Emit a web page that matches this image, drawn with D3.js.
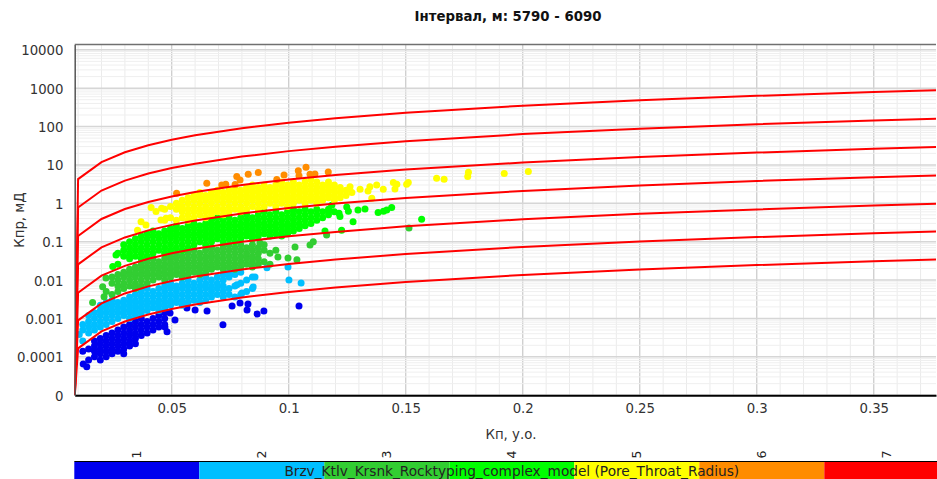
<!DOCTYPE html>
<html>
<head>
<meta charset="utf-8">
<script src="https://cdn.jsdelivr.net/npm/d3@7"></script>
<style>
  body { margin: 0; background: #fff; }
  svg { display: block; font-family: "DejaVu Sans", Verdana, sans-serif; }
</style>
</head>
<body>
<svg id="chart" width="937" height="479"></svg>
<script>
// ---- data -------------------------------------------------------------
const titleText = "Інтервал, м: 5790 - 6090";
const xTitle = "Кп, у.о.";
const yTitle = "Кпр, мД";
const legendTitle = "Brzv_Ktlv_Krsnk_Rocktyping_complex_model (Pore_Throat_Radius)";

const xTicks = [0.05, 0.1, 0.15, 0.2, 0.25, 0.3, 0.35];
const xTickLabels = ["0.05", "0.1", "0.15", "0.2", "0.25", "0.3", "0.35"];
const yTicks = [1e-5, 1e-4, 1e-3, 1e-2, 1e-1, 1, 10, 100, 1000, 10000];
const yTickLabels = ["0", "0.0001", "0.001", "0.01", "0.1", "1", "10", "100", "1000", "10000"];

const rtLabels = ["1", "2", "3", "4", "5", "6", "7"];
const rtColors = ["#0000ee", "#00bfff", "#32cd32", "#00ff00", "#ffff00", "#ff8c00", "#ff0000"];

// pore throat radius boundary lines (porosity, permeability)
const curvePhi = [0.0086, 0.01, 0.02, 0.03, 0.04, 0.05, 0.06, 0.08, 0.1, 0.12, 0.15, 0.2, 0.25, 0.3, 0.35, 0.38];
const curve1 = [1e-5, 4.27, 11.8, 21.4, 32.7, 45.5, 59.4, 90.7, 126, 165, 228, 349, 484, 633, 794, 896];
const curve2 = [1e-5, 0.776, 2.15, 3.90, 5.96, 8.27, 10.8, 16.5, 22.9, 29.9, 41.6, 63.5, 88.1, 115, 144, 163];
const curve3 = [1e-5, 0.141, 0.391, 0.710, 1.08, 1.50, 1.97, 3.00, 4.17, 5.45, 7.57, 11.5, 16.0, 21.0, 26.3, 29.7];
const curve4 = [1e-5, 0.0257, 0.0712, 0.129, 0.197, 0.274, 0.358, 0.546, 0.759, 0.992, 1.38, 2.10, 2.92, 3.81, 4.78, 5.40];
const curve5 = [1e-5, 0.00468, 0.0130, 0.0235, 0.0359, 0.0498, 0.0651, 0.0994, 0.138, 0.180, 0.251, 0.382, 0.531, 0.694, 0.871, 0.982];
const curve6 = [1e-5, 0.000891, 0.00247, 0.00448, 0.00684, 0.00950, 0.0124, 0.0189, 0.0263, 0.0344, 0.0477, 0.0729, 0.101, 0.132, 0.166, 0.187];
const curve7 = [1e-5, 0.000166, 0.000460, 0.000834, 0.00127, 0.00177, 0.00231, 0.00353, 0.00490, 0.00640, 0.00889, 0.0136, 0.0188, 0.0246, 0.0309, 0.0349];

// samples by rock type: [porosity, [permeabilities at that porosity]]
const rt1 = [
  [0.012,[1.4e-4]],[0.0145,[8.3e-5,1.6e-4]],[0.017,[1.0e-4,1.4e-4,1.9e-4,2.6e-4]],
  [0.0195,[8.3e-5,1.2e-4,1.6e-4,2.2e-4,3.0e-4]],[0.022,[1.0e-4,1.4e-4,1.9e-4,2.6e-4,3.6e-4]],
  [0.0245,[1.2e-4,1.6e-4,2.2e-4,3.0e-4,4.2e-4]],[0.027,[1.4e-4,1.9e-4,2.6e-4,3.6e-4,5.0e-4]],
  [0.0295,[1.2e-4,1.6e-4,2.2e-4,3.0e-4,4.2e-4,6.0e-4]],[0.032,[1.9e-4,2.6e-4,3.6e-4,5.0e-4,7.0e-4]],
  [0.0345,[2.2e-4,3.0e-4,4.2e-4,6.0e-4,8.3e-4]],[0.037,[3.6e-4,5.0e-4,7.0e-4,1.0e-3]],
  [0.0395,[4.2e-4,6.0e-4,8.3e-4]],[0.042,[5.0e-4,7.0e-4,1.0e-3]],[0.0445,[6.0e-4,8.3e-4,1.2e-3]],
  [0.047,[7.0e-4,1.0e-3,1.4e-3]],
  [0.0122,[6.5e-5]],[0.0137,[5.5e-5]],[0.0471,[6.0e-4]],[0.048,[4.5e-4]],[0.0493,[1.39e-3]],
  [0.0514,[9.1e-4]],[0.0565,[1.87e-3]],[0.06,[1.66e-3]],[0.0651,[1.57e-3]],[0.0719,[6.8e-4]],
  [0.0758,[2.11e-3]],[0.0792,[2.53e-3]],[0.0822,[1.66e-3]],[0.0826,[2.38e-3]],[0.0865,[1.31e-3]],
  [0.0894,[1.57e-3]],[0.1044,[2.11e-3]]
];
const rt2 = [
  [0.0105,[3.8e-4]],[0.012,[2.6e-4,5.0e-4,7.0e-4]],[0.0145,[4.2e-4,6.0e-4,8.3e-4,1.2e-3]],
  [0.017,[5.0e-4,7.0e-4,1.0e-3,1.4e-3]],[0.0195,[6.0e-4,8.3e-4,1.2e-3,1.6e-3,2.2e-3]],
  [0.022,[7.0e-4,1.0e-3,1.4e-3,1.9e-3,2.6e-3]],[0.0245,[8.3e-4,1.2e-3,1.6e-3,2.2e-3,3.0e-3]],
  [0.027,[1.0e-3,1.4e-3,1.9e-3,2.6e-3]],[0.0295,[1.2e-3,1.6e-3,2.2e-3,3.0e-3]],
  [0.032,[1.0e-3,1.4e-3,1.9e-3,2.6e-3,3.6e-3]],[0.0345,[1.2e-3,1.6e-3,2.2e-3,3.0e-3,4.2e-3]],
  [0.037,[1.4e-3,1.9e-3,2.6e-3,3.6e-3,5.0e-3]],[0.0395,[1.6e-3,2.2e-3,3.0e-3,4.2e-3,6.0e-3]],
  [0.042,[1.9e-3,2.6e-3,3.6e-3,5.0e-3]],[0.0445,[1.6e-3,2.2e-3,3.0e-3,4.2e-3,6.0e-3]],
  [0.047,[1.9e-3,2.6e-3,3.6e-3,5.0e-3,7.0e-3]],[0.0495,[2.2e-3,3.0e-3,4.2e-3,6.0e-3,8.3e-3]],
  [0.052,[2.6e-3,3.6e-3,5.0e-3,7.0e-3]],[0.0545,[2.2e-3,3.0e-3,4.2e-3,6.0e-3,8.3e-3]],
  [0.057,[2.6e-3,3.6e-3,5.0e-3,7.0e-3,1.0e-2]],[0.0595,[3.0e-3,4.2e-3,6.0e-3,8.3e-3]],
  [0.062,[2.6e-3,3.6e-3,5.0e-3,7.0e-3,1.0e-2]],[0.0645,[3.0e-3,4.2e-3,6.0e-3,8.3e-3,1.2e-2]],
  [0.067,[3.6e-3,5.0e-3,7.0e-3,1.0e-2]],[0.0695,[4.2e-3,6.0e-3,8.3e-3,1.2e-2]],
  [0.072,[3.6e-3,5.0e-3,7.0e-3,1.0e-2,1.4e-2]],[0.0745,[4.2e-3,6.0e-3,1.2e-2,1.6e-2]],
  [0.077,[3.6e-3,7.0e-3,1.4e-2]],[0.0795,[4.2e-3,8.3e-3,1.6e-2]],[0.082,[5.0e-3,1.0e-2]],
  [0.0845,[6.0e-3,1.2e-2]],
  [0.0779,[7.5e-3]],[0.08,[4.6e-3]],[0.0848,[6.6e-3]],[0.0856,[1.21e-2]],[0.0907,[2.1e-2]],
  [0.0997,[2.2e-2]],[0.1001,[1.01e-2]],[0.1053,[8.4e-3]]
];
const rt3 = [
  [0.0162,[2.6e-3]],[0.0205,[6.7e-3]],[0.0211,[3.7e-3]],[0.0219,[1.13e-2]],[0.022,[5.0e-3]],
  [0.0245,[4.2e-3,8.3e-3,1.2e-2]],[0.027,[5.0e-3,7.0e-3,1.0e-2,1.4e-2]],
  [0.0295,[6.0e-3,8.3e-3,1.2e-2,1.6e-2]],[0.032,[7.0e-3,1.0e-2,1.4e-2,1.9e-2]],
  [0.0345,[6.0e-3,8.3e-3,1.2e-2,1.6e-2,2.2e-2]],[0.037,[7.0e-3,1.0e-2,1.4e-2,1.9e-2,2.6e-2]],
  [0.0395,[8.3e-3,1.2e-2,1.6e-2,2.2e-2,3.0e-2]],[0.042,[1.0e-2,1.4e-2,1.9e-2,2.6e-2,3.6e-2]],
  [0.0445,[1.2e-2,1.6e-2,2.2e-2,3.0e-2]],[0.047,[1.0e-2,1.4e-2,1.9e-2,2.6e-2,3.6e-2]],
  [0.0495,[1.2e-2,1.6e-2,2.2e-2,3.0e-2,4.2e-2]],[0.052,[1.4e-2,1.9e-2,2.6e-2,3.6e-2,5.0e-2]],
  [0.0545,[1.2e-2,1.6e-2,2.2e-2,3.0e-2,4.2e-2]],[0.057,[1.4e-2,1.9e-2,2.6e-2,3.6e-2,5.0e-2]],
  [0.0595,[1.6e-2,2.2e-2,3.0e-2,4.2e-2,6.0e-2]],[0.062,[1.4e-2,1.9e-2,2.6e-2,3.6e-2,5.0e-2]],
  [0.0645,[1.6e-2,2.2e-2,3.0e-2,4.2e-2,6.0e-2]],[0.067,[1.9e-2,2.6e-2,3.6e-2,5.0e-2,7.0e-2]],
  [0.0695,[2.2e-2,3.0e-2,4.2e-2,6.0e-2]],[0.072,[1.9e-2,2.6e-2,3.6e-2,5.0e-2,7.0e-2]],
  [0.0745,[2.2e-2,3.0e-2,4.2e-2,6.0e-2,8.3e-2]],[0.077,[1.9e-2,2.6e-2,3.6e-2,5.0e-2,7.0e-2]],
  [0.0795,[2.2e-2,3.0e-2,4.2e-2,6.0e-2,8.3e-2]],[0.082,[2.6e-2,3.6e-2,5.0e-2,7.0e-2]],
  [0.0845,[2.2e-2,3.0e-2,4.2e-2,6.0e-2,8.3e-2]],[0.087,[2.6e-2,3.6e-2,5.0e-2,7.0e-2]],
  [0.0895,[3.0e-2,6.0e-2,8.3e-2]],[0.092,[2.6e-2,5.0e-2]],[0.0945,[6.0e-2]],
  [0.0877,[9.3e-2]],[0.0954,[4.0e-2]],[0.0997,[3.77e-2]],[0.1027,[7.3e-2]],[0.1035,[3.4e-2]],
  [0.1091,[8.2e-2]],[0.1105,[0.1]],[0.1162,[0.15]],[0.1514,[0.229]]
];
const rt4 = [
  [0.0248,[2.24e-2]],[0.0262,[4.5e-2]],[0.027,[2.6e-2,5.0e-2]],[0.0295,[4.2e-2,6.0e-2,8.3e-2]],
  [0.032,[3.6e-2,5.0e-2,7.0e-2,0.1]],[0.0345,[4.2e-2,6.0e-2,8.3e-2,0.12]],
  [0.037,[3.6e-2,5.0e-2,7.0e-2,0.1,0.14]],[0.0395,[4.2e-2,6.0e-2,8.3e-2,0.12,0.16]],
  [0.042,[5.0e-2,7.0e-2,0.1,0.14,0.19]],[0.0445,[6.0e-2,8.3e-2,0.12,0.16]],
  [0.047,[5.0e-2,7.0e-2,0.1,0.14,0.19]],[0.0495,[6.0e-2,8.3e-2,0.12,0.16,0.22]],
  [0.052,[7.0e-2,0.1,0.14,0.19,0.26]],[0.0545,[6.0e-2,8.3e-2,0.12,0.16,0.22]],
  [0.057,[7.0e-2,0.1,0.14,0.19,0.26]],[0.0595,[8.3e-2,0.12,0.16,0.22,0.3]],
  [0.062,[0.1,0.14,0.19,0.26]],[0.0645,[8.3e-2,0.12,0.16,0.22,0.3]],
  [0.067,[0.1,0.14,0.19,0.26,0.36]],[0.0695,[0.12,0.16,0.22,0.3,0.42]],
  [0.072,[0.1,0.14,0.19,0.26,0.36]],[0.0745,[0.12,0.16,0.22,0.3,0.42]],
  [0.077,[0.1,0.14,0.19,0.26,0.36]],[0.0795,[0.12,0.16,0.22,0.3,0.42]],
  [0.082,[0.14,0.19,0.26,0.36,0.5]],[0.0845,[0.12,0.16,0.22,0.3,0.42]],
  [0.087,[0.14,0.19,0.26,0.36,0.5]],[0.0895,[0.16,0.22,0.3,0.42,0.6]],
  [0.092,[0.14,0.19,0.26,0.36,0.5]],[0.0945,[0.16,0.22,0.3,0.42,0.6]],
  [0.097,[0.14,0.19,0.26,0.36,0.5]],[0.0995,[0.16,0.22,0.3,0.42,0.6]],
  [0.102,[0.19,0.26,0.36,0.5,0.7]],[0.1045,[0.22,0.3,0.42,0.6]],[0.107,[0.26,0.36,0.5,0.7]],
  [0.1095,[0.3,0.42,0.6]],[0.112,[0.36,0.5,0.7]],[0.1145,[0.42,0.6]],[0.117,[0.5,0.7]],
  [0.1195,[0.6]],
  [0.1155,[0.19]],[0.1184,[0.89]],[0.1215,[0.55]],[0.1219,[0.45]],[0.1226,[0.2]],[0.1248,[0.805]],
  [0.1255,[0.62]],[0.1275,[0.333]],[0.1296,[0.673]],[0.1326,[0.715]],[0.1382,[0.572]],
  [0.1405,[0.62]],[0.1419,[0.673]],[0.144,[0.773]],[0.1568,[0.385]]
];
const rt5 = [
  [0.0354,[0.2]],[0.0369,[0.333]],[0.039,[0.273]],[0.0412,[0.773]],[0.0433,[0.608]],
  [0.0454,[0.369]],[0.0457,[0.745]],[0.0476,[0.41]],[0.0535,[0.82]],
  [0.047,[0.36,0.7]],[0.0495,[0.42,0.83]],[0.052,[0.36,0.7,1.0]],[0.0545,[0.42,0.6,0.83,1.2]],
  [0.057,[0.36,0.5,0.7,1.0,1.4]],[0.0595,[0.42,0.6,0.83,1.2,1.6]],[0.062,[0.5,0.7,1.0,1.4,1.9]],
  [0.0645,[0.42,0.6,0.83,1.2,1.6]],[0.067,[0.5,0.7,1.0,1.4,1.9]],[0.0695,[0.6,0.83,1.2,1.6,2.2]],
  [0.072,[0.5,0.7,1.0,1.4,1.9]],[0.0745,[0.6,0.83,1.2,1.6,2.2]],[0.077,[0.7,1.0,1.4,1.9,2.6]],
  [0.0795,[0.6,0.83,1.2,1.6,2.2]],[0.082,[0.7,1.0,1.4,1.9,2.6]],[0.0845,[0.83,1.2,1.6,2.2,3.0]],
  [0.087,[0.7,1.0,1.4,1.9,2.6]],[0.0895,[0.83,1.2,1.6,2.2,3.0]],[0.092,[1.0,1.4,1.9,2.6]],
  [0.0945,[0.83,1.2,1.6,2.2,3.0]],[0.097,[1.0,1.4,1.9,2.6,3.6]],[0.0995,[0.83,1.2,1.6,2.2,3.0]],
  [0.102,[1.0,1.4,1.9,2.6,3.6]],[0.1045,[1.2,1.6,2.2,3.0]],[0.107,[1.0,1.4,1.9,2.6,3.6]],
  [0.1095,[1.2,1.6,2.2,3.0,4.2]],[0.112,[1.0,1.4,1.9,2.6,3.6]],[0.1145,[1.2,1.6,2.2,3.0]],
  [0.117,[1.4,1.9,2.6,3.6]],[0.1195,[1.2,1.6,2.2,3.0]],[0.122,[1.4,1.9,2.6]],[0.1245,[1.6,2.2]],
  [0.127,[1.9]],
  [0.1262,[2.72]],[0.1305,[2.33]],[0.1339,[2.1]],[0.1347,[2.72]],[0.1355,[1.36]],[0.1376,[3.02]],
  [0.1404,[2.33]],[0.1447,[3.47]],[0.1454,[2.37]],[0.1462,[3.15]],[0.1504,[3.15]],[0.1511,[3.47]],
  [0.1632,[4.51]],[0.1664,[4.25]],[0.1765,[4.97]],[0.1768,[6.47]],[0.1921,[5.95]],[0.2024,[6.71]]
];
const rt6 = [
  [0.0521,[1.83]],[0.065,[3.34]],[0.0714,[3.02]],[0.0731,[3.15]],[0.0771,[3.1]],[0.0778,[4.97]],
  [0.0792,[4.07]],[0.0827,[5.74]],[0.087,[6.32]],[0.0949,[4.2]],[0.098,[5.5]],[0.1041,[7.1]],
  [0.1044,[5.2]],[0.1074,[8.7]],[0.1091,[5.74]],[0.1112,[5.8]],[0.1169,[6.5]]
];

// ---- chart ------------------------------------------------------------
const svg = d3.select("#chart");
const pL = 74.7, pR = 936, pT = 44.5, pB = 395.2;
const fs = 13.3;

const x = d3.scaleLinear().domain([0.00855, 0.3766]).range([pL, pR]);
const y = d3.scaleLog().domain([1e-5, 13740]).range([pB, pT]);

svg.append("clipPath").attr("id", "plotClip")
  .append("rect").attr("x", pL).attr("y", pT).attr("width", pR - pL).attr("height", pB - pT);

// grid
const grid = svg.append("g");
const xGrid = x.ticks(40);
const isMajorX = v => Math.abs(v / 0.05 - Math.round(v / 0.05)) < 1e-6;
grid.selectAll("line.xg").data(xGrid).join("line")
  .attr("x1", d => x(d)).attr("x2", d => x(d)).attr("y1", pT).attr("y2", pB)
  .attr("stroke", d => isMajorX(d) ? "#cdcdcd" : "#ebebeb")
  .attr("stroke-width", d => isMajorX(d) ? 1.3 : 1);
const yGrid = y.ticks();
const isMajorY = v => Math.abs(Math.log10(v) - Math.round(Math.log10(v))) < 1e-6;
grid.selectAll("line.yg").data(yGrid).join("line")
  .attr("x1", pL).attr("x2", pR).attr("y1", d => y(d)).attr("y2", d => y(d))
  .attr("stroke", d => isMajorY(d) ? "#d6d6d6" : "#efefef")
  .attr("stroke-width", d => isMajorY(d) ? 1.5 : 1);

// points
const plot = svg.append("g").attr("clip-path", "url(#plotClip)");
const flat = groups => groups.flatMap(([phi, ks]) => ks.map(k => ({ phi, k })));
[rt1, rt2, rt3, rt4, rt5, rt6].forEach((g, i) => {
  plot.append("g").selectAll("circle").data(flat(g)).join("circle")
    .attr("cx", d => x(d.phi)).attr("cy", d => y(d.k)).attr("r", 3.5)
    .attr("fill", rtColors[i]);
});

// radius lines
const line = d3.line().x((d, i) => x(curvePhi[i])).y(d => y(d));
plot.selectAll("path.curve").data([curve1, curve2, curve3, curve4, curve5, curve6, curve7]).join("path")
  .attr("class", "curve").attr("d", line)
  .attr("fill", "none").attr("stroke", "#ff0000").attr("stroke-width", 2);

// axes
const xAxis = svg.append("g").attr("transform", `translate(0,${pB})`)
  .call(d3.axisBottom(x).tickValues(xTicks).tickFormat((d, i) => xTickLabels[i]).tickSize(0).tickSizeOuter(0).tickPadding(8.7));
xAxis.select(".domain").attr("stroke", "#000").attr("stroke-width", 2);
xAxis.selectAll("text").attr("font-family", "DejaVu Sans").attr("font-size", fs).attr("fill", "#333");

const yAxis = svg.append("g").attr("transform", `translate(${pL},0)`)
  .call(d3.axisLeft(y).tickValues(yTicks).tickFormat((d, i) => yTickLabels[i]).tickSize(0).tickSizeOuter(0).tickPadding(11.2));
yAxis.select(".domain").attr("stroke", "#555").attr("stroke-width", 1.5);
yAxis.selectAll("text").attr("font-family", "DejaVu Sans").attr("font-size", fs).attr("fill", "#333").attr("dy", "0.38em");

svg.append("line").attr("x1", pL).attr("x2", pR).attr("y1", pT).attr("y2", pT)
  .attr("stroke", "#707070").attr("stroke-width", 1.5);

// titles
svg.append("text").attr("x", 508).attr("y", 21).attr("text-anchor", "middle")
  .attr("font-size", fs).attr("font-weight", "bold").attr("fill", "#111").text(titleText);
svg.append("text").attr("x", 511).attr("y", 439).attr("text-anchor", "middle")
  .attr("font-size", fs).attr("fill", "#333").text(xTitle);
svg.append("text").attr("transform", "translate(24,220) rotate(-90)").attr("text-anchor", "middle")
  .attr("font-size", fs).attr("fill", "#333").text(yTitle);

// legend bar
const lx = d3.scaleBand().domain(rtLabels).range([74.3, 949.3]);
const legend = svg.append("g");
legend.selectAll("rect").data(rtLabels).join("rect")
  .attr("x", d => lx(d)).attr("y", 462).attr("width", lx.bandwidth()).attr("height", 20)
  .attr("fill", (d, i) => rtColors[i]);
legend.append("line").attr("x1", 74.3).attr("x2", 937).attr("y1", 461.5).attr("y2", 461.5)
  .attr("stroke", "#000").attr("stroke-width", 1);
legend.selectAll("text.num").data(rtLabels).join("text")
  .attr("class", "num")
  .attr("transform", d => `translate(${lx(d) + lx.bandwidth() / 2 + 4.5},454.5) rotate(-90)`)
  .attr("text-anchor", "middle").attr("font-size", 12.5).attr("fill", "#222").text(d => d);
legend.append("text").attr("x", 511.8).attr("y", 475.5).attr("text-anchor", "middle")
  .attr("font-size", 13.7).attr("fill", "#222").text(legendTitle);
</script>
</body>
</html>
